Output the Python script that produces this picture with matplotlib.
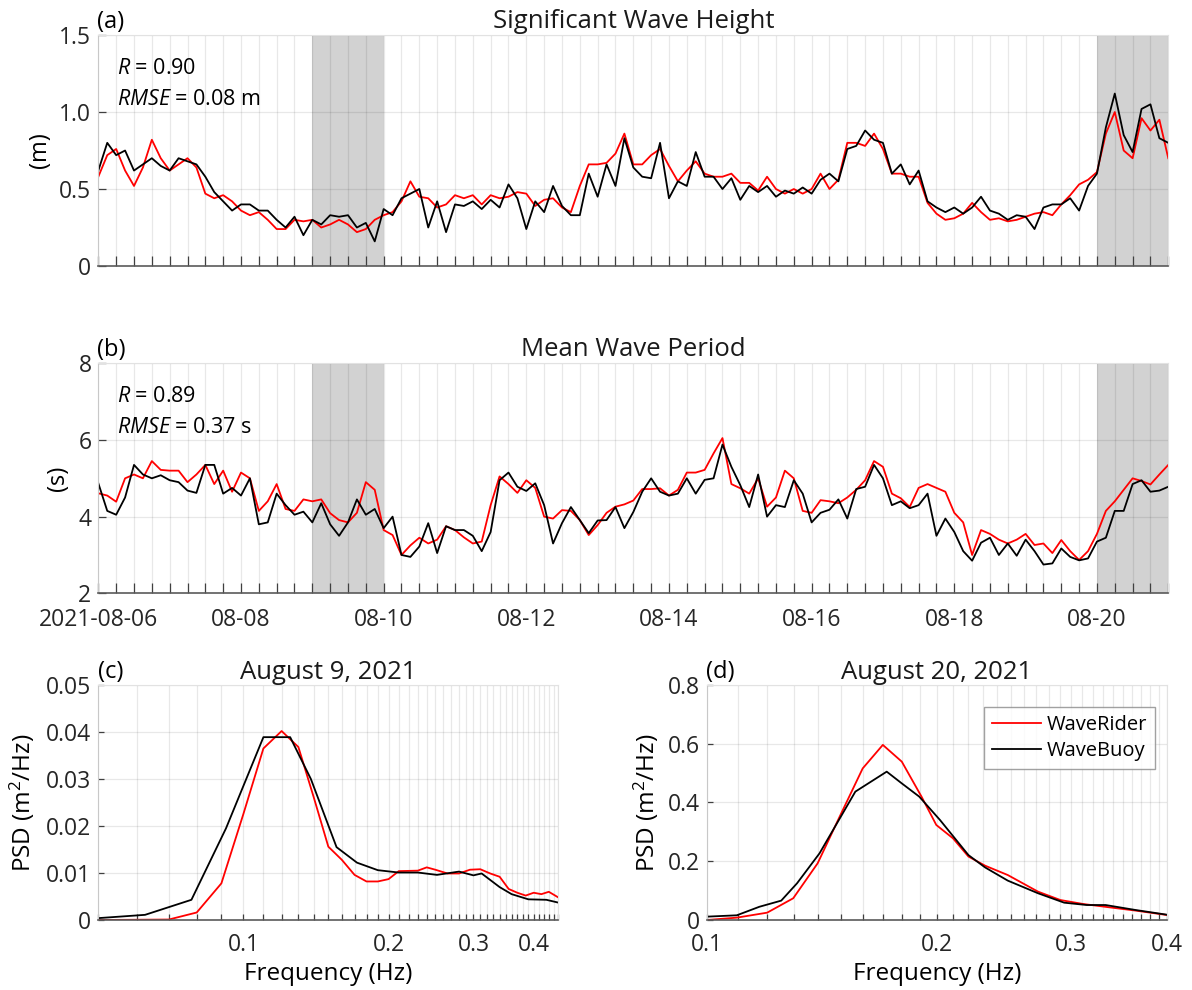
import pandas as pd
import matplotlib
matplotlib.use("Agg")
import matplotlib.pyplot as plt
import matplotlib.dates as mdates
from matplotlib.ticker import FixedLocator, NullFormatter, FuncFormatter

plt.rcParams["font.family"] = ["Open Sans", "DejaVu Sans"]
plt.rcParams["mathtext.fontset"] = "custom"
plt.rcParams["mathtext.rm"] = "Open Sans"
plt.rcParams["mathtext.it"] = "Open Sans:italic"

# 3-hourly samples, 2021-08-06 00:00 .. 2021-08-21 00:00
times = pd.date_range("2021-08-06", "2021-08-21", freq="3h")

hs_rider = [
    0.58, 0.72, 0.76, 0.62, 0.52, 0.64, 0.82, 0.70, 0.62, 0.66, 0.70, 0.64,
    0.47, 0.44, 0.46, 0.42, 0.36, 0.33, 0.35, 0.30, 0.24, 0.24, 0.30, 0.29,
    0.30, 0.25, 0.27, 0.30, 0.27, 0.22, 0.24, 0.30, 0.33, 0.35, 0.42,
    0.55, 0.45, 0.44, 0.38, 0.40, 0.46, 0.44, 0.46, 0.40, 0.46, 0.44, 0.45,
    0.48, 0.47, 0.39, 0.43, 0.44, 0.38, 0.35, 0.52, 0.66, 0.66, 0.67, 0.73,
    0.86, 0.66, 0.66, 0.72, 0.76, 0.65, 0.55, 0.62, 0.68, 0.60, 0.58, 0.58,
    0.60, 0.54, 0.54, 0.49, 0.58, 0.50, 0.47, 0.50,
    0.47, 0.50, 0.60, 0.50, 0.56, 0.80, 0.80, 0.78, 0.86, 0.76, 0.60, 0.60,
    0.58, 0.58, 0.41, 0.34, 0.30, 0.31, 0.34, 0.41, 0.35, 0.30, 0.31, 0.29,
    0.30, 0.32, 0.34, 0.35, 0.33, 0.40, 0.46, 0.53, 0.56, 0.61, 0.86, 1.00,
    0.75, 0.70, 0.96, 0.88, 0.95, 0.70,
]
hs_buoy = [
    0.62, 0.80, 0.72, 0.75, 0.62, 0.66, 0.70, 0.65, 0.62, 0.70, 0.68, 0.66,
    0.58, 0.48, 0.42, 0.36, 0.40, 0.40, 0.36, 0.36, 0.30, 0.25, 0.32, 0.20,
    0.30, 0.27, 0.33, 0.32, 0.33, 0.25, 0.28, 0.16, 0.37, 0.33, 0.44,
    0.47, 0.50, 0.25, 0.42, 0.22, 0.40, 0.39, 0.42, 0.37, 0.43, 0.38, 0.53,
    0.44, 0.24, 0.42, 0.35, 0.52, 0.39, 0.33, 0.33, 0.60, 0.45, 0.66, 0.52,
    0.83, 0.64, 0.58, 0.57, 0.80, 0.44, 0.55, 0.52, 0.74, 0.58, 0.58, 0.50,
    0.57, 0.43, 0.52, 0.48, 0.52, 0.45, 0.49, 0.47,
    0.51, 0.47, 0.56, 0.60, 0.55, 0.76, 0.78, 0.88, 0.82, 0.80, 0.60, 0.66,
    0.53, 0.62, 0.42, 0.38, 0.35, 0.38, 0.34, 0.38, 0.45, 0.36, 0.34, 0.30,
    0.33, 0.32, 0.24, 0.38, 0.40, 0.40, 0.44, 0.36, 0.52, 0.60, 0.90, 1.12,
    0.85, 0.74, 1.02, 1.05, 0.83, 0.80,
]
tm_rider = [
    4.61, 4.55, 4.39, 5.00, 5.10, 5.00, 5.45, 5.22, 5.20, 5.20, 4.90, 5.10,
    5.35, 4.85, 5.20, 4.65, 5.15, 5.00, 4.15, 4.40, 4.85, 4.20, 4.15, 4.45,
    4.40, 4.45, 4.09, 3.91, 3.85, 4.10, 4.90, 4.70, 3.65, 3.52, 3.00,
    3.25, 3.45, 3.30, 3.40, 3.75, 3.65, 3.46, 3.30, 3.35, 4.30, 5.05, 4.85,
    4.62, 4.95, 4.75, 4.00, 3.95, 4.17, 4.15, 3.91, 3.52, 3.78, 4.10, 4.26,
    4.32, 4.42, 4.72, 4.72, 4.74, 4.55, 4.70, 5.15, 5.15, 5.22, 5.65, 6.05,
    4.85, 4.74, 4.60, 5.00, 4.26, 4.50, 5.20, 5.00,
    4.15, 4.10, 4.43, 4.40, 4.35, 4.50, 4.70, 4.95, 5.45, 5.30, 4.60, 4.48,
    4.25, 4.75, 4.85, 4.75, 4.65, 4.10, 3.85, 3.00, 3.65, 3.55, 3.40, 3.30,
    3.40, 3.55, 3.26, 3.30, 3.05, 3.39, 3.10, 2.87, 3.10, 3.55, 4.15, 4.40,
    4.70, 5.00, 4.93, 4.84, 5.10, 5.35,
]
tm_buoy = [
    4.87, 4.15, 4.05, 4.50, 5.35, 5.10, 5.00, 5.08, 4.95, 4.90, 4.68, 4.62,
    5.35, 5.35, 4.60, 4.75, 4.55, 5.00, 3.80, 3.85, 4.60, 4.30, 4.05, 4.13,
    3.85, 4.35, 3.80, 3.50, 3.85, 4.45, 4.05, 4.20, 3.70, 4.00, 3.00,
    2.95, 3.22, 3.83, 3.05, 3.75, 3.65, 3.65, 3.50, 3.10, 3.60, 4.95, 5.15,
    4.78, 4.67, 4.87, 4.30, 3.30, 3.83, 4.25, 3.91, 3.57, 3.90, 3.91, 4.25,
    3.70, 4.12, 4.65, 5.00, 4.65, 4.55, 4.60, 5.00, 4.60, 4.96, 5.00, 5.88,
    5.30, 4.82, 4.25, 5.10, 4.00, 4.30, 4.25, 4.95,
    4.60, 3.85, 4.10, 4.18, 4.45, 3.95, 4.72, 4.78, 5.35, 5.00, 4.30, 4.40,
    4.22, 4.30, 4.60, 3.50, 3.95, 3.60, 3.10, 2.85, 3.32, 3.45, 3.00, 3.30,
    2.98, 3.40, 3.10, 2.75, 2.78, 3.17, 2.95, 2.86, 2.91, 3.35, 3.45, 4.15,
    4.15, 4.85, 4.95, 4.65, 4.68, 4.78,
]

shade_periods = [("2021-08-09", "2021-08-10"), ("2021-08-20", "2021-08-21")]

# spectra, August 9
f9_rider = [0.05, 0.07, 0.08, 0.09, 0.10, 0.11, 0.12, 0.13, 0.14, 0.15, 0.16,
            0.17, 0.18, 0.19, 0.20, 0.21, 0.23, 0.24, 0.25, 0.265, 0.28,
            0.295, 0.31, 0.325, 0.34, 0.355, 0.37, 0.385, 0.40, 0.415, 0.43, 0.45]
psd9_rider = [0.0, 0.0001, 0.0016, 0.0078, 0.0226, 0.0365, 0.0402, 0.0368,
              0.026, 0.0156, 0.0128, 0.0096, 0.0082, 0.0082, 0.0087, 0.0104,
              0.0105, 0.0112, 0.0107, 0.0099, 0.0099, 0.0107, 0.0108, 0.0099,
              0.0092, 0.0066, 0.0058, 0.0052, 0.0058, 0.0055, 0.0060, 0.0048]
f9_buoy = [0.05, 0.0625, 0.078, 0.092, 0.110, 0.125, 0.138, 0.156, 0.172,
           0.19, 0.21, 0.23, 0.252, 0.28, 0.30, 0.312, 0.34, 0.36, 0.39,
           0.425, 0.45]
psd9_buoy = [0.0004, 0.0011, 0.0043, 0.0195, 0.0389, 0.0389, 0.030, 0.0155,
             0.0122, 0.0106, 0.0101, 0.0101, 0.0096, 0.0103, 0.0095, 0.0099,
             0.0070, 0.0055, 0.0044, 0.0043, 0.0037]

# spectra, August 20
f20_rider = [0.10, 0.1095, 0.120, 0.1298, 0.1397, 0.1496, 0.160, 0.170, 0.180,
             0.191, 0.1997, 0.210, 0.220, 0.2313, 0.2477, 0.2713, 0.2902,
             0.3108, 0.3367, 0.364, 0.40]
psd20_rider = [0.0, 0.008, 0.025, 0.074, 0.193, 0.357, 0.516, 0.596, 0.539,
               0.42, 0.3235, 0.278, 0.216, 0.185, 0.153, 0.0965, 0.068,
               0.0545, 0.043, 0.032, 0.017]
f20_buoy = [0.10, 0.1095, 0.1172, 0.1252, 0.1313, 0.1405, 0.1565, 0.172,
            0.180, 0.1897, 0.202, 0.220, 0.2313, 0.2477, 0.2713, 0.2935,
            0.3142, 0.3325, 0.364, 0.40]
psd20_buoy = [0.0114, 0.016, 0.045, 0.066, 0.125, 0.227, 0.437, 0.505, 0.465,
              0.42, 0.34, 0.221, 0.179, 0.134, 0.091, 0.059, 0.051, 0.051,
              0.034, 0.018]

W, H = 1192, 990
fig = plt.figure(figsize=(W / 100, H / 100), dpi=100)

GRID = dict(color="k", alpha=0.09, linewidth=0.9)
TICK = 16.5
LABEL = 17
TITLE = 18.5
STATS = 15.5


def style_axes(ax):
    ax.set_axisbelow(True)
    for s in ["top", "right"]:
        ax.spines[s].set_color("#e2e2e2")
        ax.spines[s].set_linewidth(0.8)
    ax.spines["left"].set_color("#c8c8c8")
    ax.spines["bottom"].set_color("#5a5a5a")
    ax.spines["bottom"].set_linewidth(1.2)
    ax.tick_params(axis="both", which="both", direction="in", colors="#404040",
                   labelcolor="#262626", labelsize=TICK, top=False, right=False)


def date_label(x, pos):
    d = mdates.num2date(x)
    if d.hour != 0 or d.day % 2 != 0:
        return ""
    if d.day == 6:
        return d.strftime("%Y-%m-%d")
    return d.strftime("%m-%d")


def time_panel(rect, rider, buoy, ylim, yticks, yticklabels, ylabel, title,
               tag, stats, labels):
    ax = fig.add_axes(rect)
    style_axes(ax)
    for a, b in shade_periods:
        ax.axvspan(pd.Timestamp(a), pd.Timestamp(b), color="#d2d2d2", lw=0, zorder=0.2)
    ax.plot(times, rider, color="red", lw=1.3)
    ax.plot(times, buoy, color="black", lw=1.3)
    ax.set_xlim(times[0], times[-1])
    ax.set_ylim(*ylim)
    ax.set_yticks(yticks)
    ax.set_yticklabels(yticklabels)
    ax.xaxis.set_major_locator(mdates.HourLocator(byhour=[0, 12]))
    ax.xaxis.set_minor_locator(mdates.HourLocator(byhour=[6, 18]))
    if labels:
        ax.xaxis.set_major_formatter(FuncFormatter(date_label))
    else:
        ax.xaxis.set_major_formatter(NullFormatter())
    ax.tick_params(axis="x", which="both", length=7.5, width=0.9, pad=10.5)
    ax.tick_params(axis="y", length=6, width=0.9, pad=5)
    ax.grid(True, axis="x", which="both", **GRID)
    ax.grid(True, axis="y", which="major", **GRID)
    ax.set_ylabel(ylabel, fontsize=LABEL)
    ax.set_title(title, fontsize=TITLE, pad=5, color="#1a1a1a")
    ax.text(-0.001, 1.004, tag, transform=ax.transAxes, ha="left", va="bottom",
            fontsize=LABEL)
    ax.text(0.0175, 0.855, stats[0], transform=ax.transAxes, ha="left",
            va="center", fontsize=STATS)
    ax.text(0.0175, 0.723, stats[1], transform=ax.transAxes, ha="left",
            va="center", fontsize=STATS)
    return ax


ax_a = time_panel([0.0825, 0.7313, 0.8976, 0.2333], hs_rider, hs_buoy,
                  (0, 1.5), [0, 0.5, 1.0, 1.5], ["0", "0.5", "1.0", "1.5"],
                  "(m)", "Significant Wave Height", "(a)",
                  (r"$\mathit{R}$ = 0.90", r"$\mathit{RMSE}$ = 0.08 m"), False)
ax_a.yaxis.set_label_coords(-0.043, 0.5)

ax_b = time_panel([0.0825, 0.4007, 0.8976, 0.2323], tm_rider, tm_buoy,
                  (2, 8), [2, 4, 6, 8], ["2", "4", "6", "8"],
                  "(s)", "Mean Wave Period", "(b)",
                  (r"$\mathit{R}$ = 0.89", r"$\mathit{RMSE}$ = 0.37 s"), True)
ax_b.yaxis.set_label_coords(-0.0265, 0.5)


def spec_panel(rect, fr, pr, fb, pb, xlim, majors, minors, ylim, yticks,
               yticklabels, title, tag, legend):
    ax = fig.add_axes(rect)
    style_axes(ax)
    ax.plot(fr, pr, color="red", lw=1.3, label="WaveRider")
    ax.plot(fb, pb, color="black", lw=1.3, label="WaveBuoy")
    ax.set_xscale("log")
    ax.set_xlim(*xlim)
    ax.xaxis.set_major_locator(FixedLocator(majors))
    ax.xaxis.set_major_formatter(FuncFormatter(lambda v, p: f"{v:g}"))
    ax.xaxis.set_minor_locator(FixedLocator(minors))
    ax.xaxis.set_minor_formatter(NullFormatter())
    ax.set_ylim(*ylim)
    ax.set_yticks(yticks)
    ax.set_yticklabels(yticklabels)
    ax.tick_params(axis="x", which="both", length=4, width=0.9, pad=9)
    ax.tick_params(axis="y", length=4, width=0.9, pad=5)
    ax.grid(True, axis="x", which="both", **GRID)
    ax.grid(True, axis="y", which="major", **GRID)
    ax.set_xlabel("Frequency (Hz)", fontsize=LABEL + 0.5, labelpad=4)
    ax.set_ylabel(r"PSD (m$^2$/Hz)", fontsize=LABEL + 0.5)
    ax.set_title(title, fontsize=TITLE, pad=4, color="#1a1a1a")
    ax.text(-0.001, 1.004, tag, transform=ax.transAxes, ha="left", va="bottom",
            fontsize=LABEL)
    if legend:
        leg = ax.legend(loc="upper right", bbox_to_anchor=(0.974, 0.906),
                        borderaxespad=0, fontsize=14.5, frameon=True,
                        fancybox=False, handlelength=2.4, labelspacing=0.3,
                        handletextpad=0.3, borderpad=0.4)
        leg.get_frame().set_edgecolor("#8a8a8a")
        leg.get_frame().set_linewidth(1.0)
    return ax


minor_c = [round(0.05 + 0.01 * i, 2) for i in range(41)]
minor_d = [round(0.10 + 0.01 * i, 2) for i in range(31)]

ax_c = spec_panel([0.0825, 0.0707, 0.3859, 0.2374], f9_rider, psd9_rider,
                  f9_buoy, psd9_buoy, (0.05, 0.45), [0.1, 0.2, 0.3, 0.4],
                  minor_c, (0, 0.05), [0, 0.01, 0.02, 0.03, 0.04, 0.05],
                  ["0", "0.01", "0.02", "0.03", "0.04", "0.05"],
                  "August 9, 2021", "(c)", False)
ax_c.yaxis.set_label_coords(-0.133, 0.5)

ax_d = spec_panel([0.5928, 0.0707, 0.3862, 0.2374], f20_rider, psd20_rider,
                  f20_buoy, psd20_buoy, (0.1, 0.4), [0.1, 0.2, 0.3, 0.4],
                  minor_d, (0, 0.8), [0, 0.2, 0.4, 0.6, 0.8],
                  ["0", "0.2", "0.4", "0.6", "0.8"],
                  "August 20, 2021", "(d)", True)
ax_d.yaxis.set_label_coords(-0.1, 0.5)

fig.savefig("out.png", dpi=100)
